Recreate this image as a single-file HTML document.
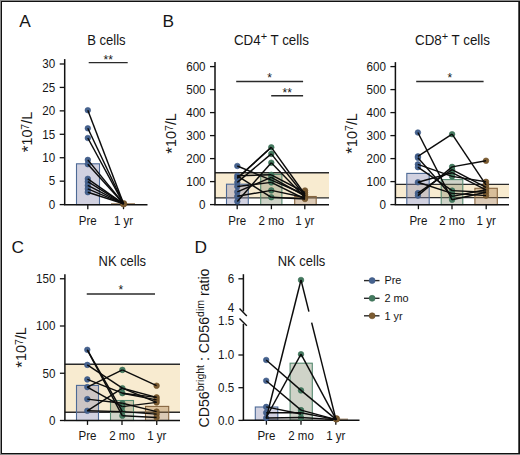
<!DOCTYPE html>
<html><head><meta charset="utf-8"><title>Lymphocyte subsets</title>
<style>
html,body{margin:0;padding:0;background:#fff;}
body{width:520px;height:455px;overflow:hidden;}
svg{display:block;}
text{font-family:"Liberation Sans", sans-serif;fill:#161616;}
</style></head>
<body>
<svg width="520" height="455" viewBox="0 0 520 455">
<rect x="0" y="0" width="520" height="455" fill="#8a8a8a"/>
<rect x="1" y="1" width="519" height="453" fill="#111"/>
<rect x="2" y="2" width="516" height="451" fill="#fff"/>
<rect x="518" y="2" width="1" height="451" fill="#555"/>
<text x="19.2" y="26.5" font-size="17.3" text-anchor="start" >A</text>
<text x="162.6" y="26.5" font-size="17.3" text-anchor="start" >B</text>
<text x="11.6" y="253.3" font-size="17.3" text-anchor="start" >C</text>
<text x="194.6" y="253.0" font-size="17.3" text-anchor="start" >D</text>
<text x="106.4" y="45.3" font-size="14" text-anchor="middle" textLength="38.5" lengthAdjust="spacingAndGlyphs">B cells</text>
<line x1="88.7" y1="62.6" x2="127.7" y2="62.6" stroke="#2a2a2a" stroke-width="1.4"/>
<text x="108.2" y="64.2" font-size="12" text-anchor="middle" >**</text>
<rect x="76.5" y="163.8" width="23.0" height="40.79999999999998" fill="rgba(140,140,178,0.4)" stroke="#4d6a96" stroke-width="1.1"/>
<rect x="111" y="203" width="24" height="1.5" fill="#876640" opacity="0.7"/>
<line x1="64.7" y1="59.1" x2="64.7" y2="205" stroke="#111" stroke-width="1.5"/>
<line x1="59.7" y1="204.6" x2="64.7" y2="204.6" stroke="#111" stroke-width="1.3"/>
<text transform="translate(55.2,208.9) scale(0.97,1)" font-size="12" text-anchor="end">0</text>
<line x1="59.7" y1="181.165" x2="64.7" y2="181.165" stroke="#111" stroke-width="1.3"/>
<text transform="translate(55.2,185.465) scale(0.97,1)" font-size="12" text-anchor="end">5</text>
<line x1="59.7" y1="157.73" x2="64.7" y2="157.73" stroke="#111" stroke-width="1.3"/>
<text transform="translate(55.2,162.03) scale(0.97,1)" font-size="12" text-anchor="end">10</text>
<line x1="59.7" y1="134.295" x2="64.7" y2="134.295" stroke="#111" stroke-width="1.3"/>
<text transform="translate(55.2,138.595) scale(0.97,1)" font-size="12" text-anchor="end">15</text>
<line x1="59.7" y1="110.85999999999999" x2="64.7" y2="110.85999999999999" stroke="#111" stroke-width="1.3"/>
<text transform="translate(55.2,115.15999999999998) scale(0.97,1)" font-size="12" text-anchor="end">20</text>
<line x1="59.7" y1="87.42499999999998" x2="64.7" y2="87.42499999999998" stroke="#111" stroke-width="1.3"/>
<text transform="translate(55.2,91.72499999999998) scale(0.97,1)" font-size="12" text-anchor="end">25</text>
<line x1="59.7" y1="63.98999999999998" x2="64.7" y2="63.98999999999998" stroke="#111" stroke-width="1.3"/>
<text transform="translate(55.2,68.28999999999998) scale(0.97,1)" font-size="12" text-anchor="end">30</text>
<line x1="63.95" y1="204.8" x2="147.5" y2="204.8" stroke="#111" stroke-width="1.5"/>
<line x1="87.8" y1="204.8" x2="87.8" y2="209.20000000000002" stroke="#111" stroke-width="1.3"/>
<text transform="translate(87.8,224.9) scale(0.96,1)" font-size="12" text-anchor="middle">Pre</text>
<line x1="123.5" y1="204.8" x2="123.5" y2="209.20000000000002" stroke="#111" stroke-width="1.3"/>
<text transform="translate(123.5,224.9) scale(0.96,1)" font-size="12" text-anchor="middle">1 yr</text>
<circle cx="87.8" cy="110.2" r="2.8" fill="#46638f" stroke="#3a5683" stroke-width="0.6"/>
<circle cx="87.8" cy="128.3" r="2.8" fill="#46638f" stroke="#3a5683" stroke-width="0.6"/>
<circle cx="87.8" cy="138" r="2.8" fill="#46638f" stroke="#3a5683" stroke-width="0.6"/>
<circle cx="87.8" cy="159.9" r="2.8" fill="#46638f" stroke="#3a5683" stroke-width="0.6"/>
<circle cx="87.8" cy="164.2" r="2.8" fill="#46638f" stroke="#3a5683" stroke-width="0.6"/>
<circle cx="87.8" cy="178.8" r="2.8" fill="#46638f" stroke="#3a5683" stroke-width="0.6"/>
<circle cx="87.8" cy="181.7" r="2.8" fill="#46638f" stroke="#3a5683" stroke-width="0.6"/>
<circle cx="87.8" cy="185.4" r="2.8" fill="#46638f" stroke="#3a5683" stroke-width="0.6"/>
<circle cx="87.8" cy="188.9" r="2.8" fill="#46638f" stroke="#3a5683" stroke-width="0.6"/>
<circle cx="87.8" cy="192.2" r="2.8" fill="#46638f" stroke="#3a5683" stroke-width="0.6"/>
<circle cx="123.6" cy="203.8" r="3.3" fill="#7c5c32" stroke="#6b4d25" stroke-width="0.6"/>
<line x1="87.8" y1="110.2" x2="123.6" y2="203.8" stroke="#0c0c0c" stroke-width="1.45"/>
<line x1="87.8" y1="128.3" x2="123.6" y2="203.8" stroke="#0c0c0c" stroke-width="1.45"/>
<line x1="87.8" y1="138" x2="123.6" y2="203.8" stroke="#0c0c0c" stroke-width="1.45"/>
<line x1="87.8" y1="159.9" x2="123.6" y2="203.8" stroke="#0c0c0c" stroke-width="1.45"/>
<line x1="87.8" y1="164.2" x2="123.6" y2="203.8" stroke="#0c0c0c" stroke-width="1.45"/>
<line x1="87.8" y1="178.8" x2="123.6" y2="203.8" stroke="#0c0c0c" stroke-width="1.45"/>
<line x1="87.8" y1="181.7" x2="123.6" y2="203.8" stroke="#0c0c0c" stroke-width="1.45"/>
<line x1="87.8" y1="185.4" x2="123.6" y2="203.8" stroke="#0c0c0c" stroke-width="1.45"/>
<line x1="87.8" y1="188.9" x2="123.6" y2="203.8" stroke="#0c0c0c" stroke-width="1.45"/>
<line x1="87.8" y1="192.2" x2="123.6" y2="203.8" stroke="#0c0c0c" stroke-width="1.45"/>
<text transform="translate(32.4,132.0) rotate(-90)" font-size="13.8" text-anchor="middle" textLength="40.5" lengthAdjust="spacingAndGlyphs"><tspan font-size="16.5" dy="1.6">*</tspan><tspan dy="-1.6">10</tspan><tspan font-size="10.2" dy="-3.6">7</tspan><tspan dy="3.6">/L</tspan></text>
<text x="271.4" y="45.3" font-size="14" text-anchor="middle" textLength="75" lengthAdjust="spacingAndGlyphs">CD4<tspan font-size="11.5" dy="-5.6">+</tspan><tspan dy="5.6"> T cells</tspan></text>
<line x1="236.2" y1="81.5" x2="303.1" y2="81.5" stroke="#2a2a2a" stroke-width="1.4"/>
<text x="269.65" y="82.4" font-size="12" text-anchor="middle" >*</text>
<line x1="271.2" y1="95.8" x2="303.1" y2="95.8" stroke="#2a2a2a" stroke-width="1.4"/>
<text x="287.15" y="97.0" font-size="12" text-anchor="middle" >**</text>
<rect x="215" y="172.8" width="114" height="25.099999999999994" fill="#f8ebd0"/>
<line x1="215" y1="172.8" x2="329" y2="172.8" stroke="#2a2a2a" stroke-width="1.4"/>
<line x1="215" y1="197.9" x2="329" y2="197.9" stroke="#2a2a2a" stroke-width="1.4"/>
<rect x="226.5" y="184.2" width="21.80000000000001" height="20.400000000000006" fill="rgba(140,140,178,0.4)" stroke="#4d6a96" stroke-width="1.1"/>
<rect x="260.7" y="174.4" width="21.19999999999999" height="30.19999999999999" fill="rgba(135,145,118,0.4)" stroke="#568a70" stroke-width="1.1"/>
<rect x="294.7" y="196.5" width="21.5" height="8.099999999999994" fill="rgba(167,122,72,0.4)" stroke="#876640" stroke-width="1.1"/>
<line x1="215" y1="62.1" x2="215" y2="205" stroke="#111" stroke-width="1.5"/>
<line x1="210" y1="204.6" x2="215" y2="204.6" stroke="#111" stroke-width="1.3"/>
<text transform="translate(205.6,208.9) scale(0.97,1)" font-size="12" text-anchor="end">0</text>
<line x1="210" y1="181.6" x2="215" y2="181.6" stroke="#111" stroke-width="1.3"/>
<text transform="translate(205.6,185.9) scale(0.97,1)" font-size="12" text-anchor="end">100</text>
<line x1="210" y1="158.6" x2="215" y2="158.6" stroke="#111" stroke-width="1.3"/>
<text transform="translate(205.6,162.9) scale(0.97,1)" font-size="12" text-anchor="end">200</text>
<line x1="210" y1="135.6" x2="215" y2="135.6" stroke="#111" stroke-width="1.3"/>
<text transform="translate(205.6,139.9) scale(0.97,1)" font-size="12" text-anchor="end">300</text>
<line x1="210" y1="112.6" x2="215" y2="112.6" stroke="#111" stroke-width="1.3"/>
<text transform="translate(205.6,116.89999999999999) scale(0.97,1)" font-size="12" text-anchor="end">400</text>
<line x1="210" y1="89.6" x2="215" y2="89.6" stroke="#111" stroke-width="1.3"/>
<text transform="translate(205.6,93.89999999999999) scale(0.97,1)" font-size="12" text-anchor="end">500</text>
<line x1="210" y1="66.6" x2="215" y2="66.6" stroke="#111" stroke-width="1.3"/>
<text transform="translate(205.6,70.89999999999999) scale(0.97,1)" font-size="12" text-anchor="end">600</text>
<line x1="214.25" y1="204.8" x2="329" y2="204.8" stroke="#111" stroke-width="1.5"/>
<line x1="237.2" y1="204.8" x2="237.2" y2="209.20000000000002" stroke="#111" stroke-width="1.3"/>
<text transform="translate(237.2,224.9) scale(0.96,1)" font-size="12" text-anchor="middle">Pre</text>
<line x1="271.4" y1="204.8" x2="271.4" y2="209.20000000000002" stroke="#111" stroke-width="1.3"/>
<text transform="translate(271.4,224.9) scale(0.96,1)" font-size="12" text-anchor="middle">2 mo</text>
<line x1="304.8" y1="204.8" x2="304.8" y2="209.20000000000002" stroke="#111" stroke-width="1.3"/>
<text transform="translate(304.8,224.9) scale(0.96,1)" font-size="12" text-anchor="middle">1 yr</text>
<circle cx="237.3" cy="166.0" r="2.8" fill="#46638f" stroke="#3a5683" stroke-width="0.6"/>
<circle cx="237.3" cy="175.8" r="2.8" fill="#46638f" stroke="#3a5683" stroke-width="0.6"/>
<circle cx="237.3" cy="178.3" r="2.8" fill="#46638f" stroke="#3a5683" stroke-width="0.6"/>
<circle cx="237.3" cy="182.4" r="2.8" fill="#46638f" stroke="#3a5683" stroke-width="0.6"/>
<circle cx="237.3" cy="186.5" r="2.8" fill="#46638f" stroke="#3a5683" stroke-width="0.6"/>
<circle cx="237.3" cy="191.9" r="2.8" fill="#46638f" stroke="#3a5683" stroke-width="0.6"/>
<circle cx="237.3" cy="196.3" r="2.8" fill="#46638f" stroke="#3a5683" stroke-width="0.6"/>
<circle cx="237.3" cy="201.4" r="2.8" fill="#46638f" stroke="#3a5683" stroke-width="0.6"/>
<circle cx="271.3" cy="147.3" r="2.8" fill="#457a60" stroke="#386c52" stroke-width="0.6"/>
<circle cx="271.3" cy="153.9" r="2.8" fill="#457a60" stroke="#386c52" stroke-width="0.6"/>
<circle cx="271.3" cy="162.7" r="2.8" fill="#457a60" stroke="#386c52" stroke-width="0.6"/>
<circle cx="271.3" cy="174.8" r="2.8" fill="#457a60" stroke="#386c52" stroke-width="0.6"/>
<circle cx="271.3" cy="177.3" r="2.8" fill="#457a60" stroke="#386c52" stroke-width="0.6"/>
<circle cx="271.3" cy="180.2" r="2.8" fill="#457a60" stroke="#386c52" stroke-width="0.6"/>
<circle cx="271.3" cy="182.4" r="2.8" fill="#457a60" stroke="#386c52" stroke-width="0.6"/>
<circle cx="271.3" cy="190.4" r="2.8" fill="#457a60" stroke="#386c52" stroke-width="0.6"/>
<circle cx="271.3" cy="197.3" r="2.8" fill="#457a60" stroke="#386c52" stroke-width="0.6"/>
<circle cx="305.0" cy="190.5" r="2.8" fill="#7c5c32" stroke="#6b4d25" stroke-width="0.6"/>
<circle cx="305.0" cy="192.5" r="2.8" fill="#7c5c32" stroke="#6b4d25" stroke-width="0.6"/>
<circle cx="305.0" cy="194.5" r="2.8" fill="#7c5c32" stroke="#6b4d25" stroke-width="0.6"/>
<circle cx="305.0" cy="196.0" r="2.8" fill="#7c5c32" stroke="#6b4d25" stroke-width="0.6"/>
<circle cx="305.0" cy="197.5" r="2.8" fill="#7c5c32" stroke="#6b4d25" stroke-width="0.6"/>
<circle cx="305.0" cy="199.0" r="2.8" fill="#7c5c32" stroke="#6b4d25" stroke-width="0.6"/>
<line x1="237.3" y1="166.0" x2="271.3" y2="180.2" stroke="#0c0c0c" stroke-width="1.45"/>
<line x1="237.3" y1="178.3" x2="271.3" y2="147.3" stroke="#0c0c0c" stroke-width="1.45"/>
<line x1="237.3" y1="182.4" x2="271.3" y2="153.9" stroke="#0c0c0c" stroke-width="1.45"/>
<line x1="237.3" y1="201.4" x2="271.3" y2="162.7" stroke="#0c0c0c" stroke-width="1.45"/>
<line x1="237.3" y1="175.8" x2="271.3" y2="174.8" stroke="#0c0c0c" stroke-width="1.45"/>
<line x1="237.3" y1="186.5" x2="271.3" y2="182.4" stroke="#0c0c0c" stroke-width="1.45"/>
<line x1="237.3" y1="191.9" x2="271.3" y2="177.3" stroke="#0c0c0c" stroke-width="1.45"/>
<line x1="237.3" y1="196.3" x2="271.3" y2="190.4" stroke="#0c0c0c" stroke-width="1.45"/>
<line x1="237.3" y1="175.8" x2="271.3" y2="197.3" stroke="#0c0c0c" stroke-width="1.45"/>
<line x1="237.3" y1="178.3" x2="271.3" y2="147.3" stroke="#0c0c0c" stroke-width="1.45"/>
<line x1="271.3" y1="147.3" x2="305.0" y2="194.5" stroke="#0c0c0c" stroke-width="1.45"/>
<line x1="271.3" y1="153.9" x2="305.0" y2="196.0" stroke="#0c0c0c" stroke-width="1.45"/>
<line x1="271.3" y1="162.7" x2="305.0" y2="197.5" stroke="#0c0c0c" stroke-width="1.45"/>
<line x1="271.3" y1="174.8" x2="305.0" y2="192.5" stroke="#0c0c0c" stroke-width="1.45"/>
<line x1="271.3" y1="177.3" x2="305.0" y2="196.0" stroke="#0c0c0c" stroke-width="1.45"/>
<line x1="271.3" y1="180.2" x2="305.0" y2="194.5" stroke="#0c0c0c" stroke-width="1.45"/>
<line x1="271.3" y1="182.4" x2="305.0" y2="199.0" stroke="#0c0c0c" stroke-width="1.45"/>
<line x1="271.3" y1="190.4" x2="305.0" y2="197.5" stroke="#0c0c0c" stroke-width="1.45"/>
<line x1="271.3" y1="197.3" x2="305.0" y2="199.0" stroke="#0c0c0c" stroke-width="1.45"/>
<text transform="translate(176.3,133.4) rotate(-90)" font-size="13.8" text-anchor="middle" textLength="40.5" lengthAdjust="spacingAndGlyphs"><tspan font-size="16.5" dy="1.6">*</tspan><tspan dy="-1.6">10</tspan><tspan font-size="10.2" dy="-3.6">7</tspan><tspan dy="3.6">/L</tspan></text>
<text x="452.5" y="45.3" font-size="14" text-anchor="middle" textLength="75" lengthAdjust="spacingAndGlyphs">CD8<tspan font-size="11.5" dy="-5.6">+</tspan><tspan dy="5.6"> T cells</tspan></text>
<line x1="416.2" y1="81.5" x2="483.6" y2="81.5" stroke="#2a2a2a" stroke-width="1.4"/>
<text x="449.9" y="82.4" font-size="12" text-anchor="middle" >*</text>
<rect x="395.4" y="184.4" width="113.60000000000002" height="13.199999999999989" fill="#f8ebd0"/>
<line x1="395.4" y1="184.4" x2="509" y2="184.4" stroke="#2a2a2a" stroke-width="1.4"/>
<line x1="395.4" y1="197.6" x2="509" y2="197.6" stroke="#2a2a2a" stroke-width="1.4"/>
<rect x="406.8" y="173.4" width="22.399999999999977" height="31.19999999999999" fill="rgba(140,140,178,0.4)" stroke="#4d6a96" stroke-width="1.1"/>
<rect x="441.2" y="179.6" width="21.600000000000023" height="25.0" fill="rgba(135,145,118,0.4)" stroke="#568a70" stroke-width="1.1"/>
<rect x="474.9" y="188.3" width="22.400000000000034" height="16.299999999999983" fill="rgba(167,122,72,0.4)" stroke="#876640" stroke-width="1.1"/>
<line x1="395.4" y1="62.1" x2="395.4" y2="205" stroke="#111" stroke-width="1.5"/>
<line x1="390.4" y1="204.6" x2="395.4" y2="204.6" stroke="#111" stroke-width="1.3"/>
<text transform="translate(386.0,208.9) scale(0.97,1)" font-size="12" text-anchor="end">0</text>
<line x1="390.4" y1="181.6" x2="395.4" y2="181.6" stroke="#111" stroke-width="1.3"/>
<text transform="translate(386.0,185.9) scale(0.97,1)" font-size="12" text-anchor="end">100</text>
<line x1="390.4" y1="158.6" x2="395.4" y2="158.6" stroke="#111" stroke-width="1.3"/>
<text transform="translate(386.0,162.9) scale(0.97,1)" font-size="12" text-anchor="end">200</text>
<line x1="390.4" y1="135.6" x2="395.4" y2="135.6" stroke="#111" stroke-width="1.3"/>
<text transform="translate(386.0,139.9) scale(0.97,1)" font-size="12" text-anchor="end">300</text>
<line x1="390.4" y1="112.6" x2="395.4" y2="112.6" stroke="#111" stroke-width="1.3"/>
<text transform="translate(386.0,116.89999999999999) scale(0.97,1)" font-size="12" text-anchor="end">400</text>
<line x1="390.4" y1="89.6" x2="395.4" y2="89.6" stroke="#111" stroke-width="1.3"/>
<text transform="translate(386.0,93.89999999999999) scale(0.97,1)" font-size="12" text-anchor="end">500</text>
<line x1="390.4" y1="66.6" x2="395.4" y2="66.6" stroke="#111" stroke-width="1.3"/>
<text transform="translate(386.0,70.89999999999999) scale(0.97,1)" font-size="12" text-anchor="end">600</text>
<line x1="394.65" y1="204.8" x2="509" y2="204.8" stroke="#111" stroke-width="1.5"/>
<line x1="418.4" y1="204.8" x2="418.4" y2="209.20000000000002" stroke="#111" stroke-width="1.3"/>
<text transform="translate(418.4,224.9) scale(0.96,1)" font-size="12" text-anchor="middle">Pre</text>
<line x1="452.0" y1="204.8" x2="452.0" y2="209.20000000000002" stroke="#111" stroke-width="1.3"/>
<text transform="translate(452.0,224.9) scale(0.96,1)" font-size="12" text-anchor="middle">2 mo</text>
<line x1="486.2" y1="204.8" x2="486.2" y2="209.20000000000002" stroke="#111" stroke-width="1.3"/>
<text transform="translate(486.2,224.9) scale(0.96,1)" font-size="12" text-anchor="middle">1 yr</text>
<circle cx="417.9" cy="132.5" r="2.8" fill="#46638f" stroke="#3a5683" stroke-width="0.6"/>
<circle cx="417.9" cy="156.4" r="2.8" fill="#46638f" stroke="#3a5683" stroke-width="0.6"/>
<circle cx="417.9" cy="157.7" r="2.8" fill="#46638f" stroke="#3a5683" stroke-width="0.6"/>
<circle cx="417.9" cy="164.4" r="2.8" fill="#46638f" stroke="#3a5683" stroke-width="0.6"/>
<circle cx="417.9" cy="167.2" r="2.8" fill="#46638f" stroke="#3a5683" stroke-width="0.6"/>
<circle cx="417.9" cy="182.3" r="2.8" fill="#46638f" stroke="#3a5683" stroke-width="0.6"/>
<circle cx="417.9" cy="193.1" r="2.8" fill="#46638f" stroke="#3a5683" stroke-width="0.6"/>
<circle cx="417.9" cy="195.6" r="2.8" fill="#46638f" stroke="#3a5683" stroke-width="0.6"/>
<circle cx="452.1" cy="134.2" r="2.8" fill="#457a60" stroke="#386c52" stroke-width="0.6"/>
<circle cx="452.1" cy="166.9" r="2.8" fill="#457a60" stroke="#386c52" stroke-width="0.6"/>
<circle cx="452.1" cy="169.7" r="2.8" fill="#457a60" stroke="#386c52" stroke-width="0.6"/>
<circle cx="452.1" cy="172.7" r="2.8" fill="#457a60" stroke="#386c52" stroke-width="0.6"/>
<circle cx="452.1" cy="176.4" r="2.8" fill="#457a60" stroke="#386c52" stroke-width="0.6"/>
<circle cx="452.1" cy="190.6" r="2.8" fill="#457a60" stroke="#386c52" stroke-width="0.6"/>
<circle cx="452.1" cy="193.4" r="2.8" fill="#457a60" stroke="#386c52" stroke-width="0.6"/>
<circle cx="452.1" cy="196.4" r="2.8" fill="#457a60" stroke="#386c52" stroke-width="0.6"/>
<circle cx="452.1" cy="199.8" r="2.8" fill="#457a60" stroke="#386c52" stroke-width="0.6"/>
<circle cx="486.0" cy="160.7" r="2.8" fill="#7c5c32" stroke="#6b4d25" stroke-width="0.6"/>
<circle cx="486.0" cy="181.8" r="2.8" fill="#7c5c32" stroke="#6b4d25" stroke-width="0.6"/>
<circle cx="486.0" cy="184.8" r="2.8" fill="#7c5c32" stroke="#6b4d25" stroke-width="0.6"/>
<circle cx="486.0" cy="187.3" r="2.8" fill="#7c5c32" stroke="#6b4d25" stroke-width="0.6"/>
<circle cx="486.0" cy="189.8" r="2.8" fill="#7c5c32" stroke="#6b4d25" stroke-width="0.6"/>
<circle cx="486.0" cy="192.3" r="2.8" fill="#7c5c32" stroke="#6b4d25" stroke-width="0.6"/>
<circle cx="486.0" cy="195.6" r="2.8" fill="#7c5c32" stroke="#6b4d25" stroke-width="0.6"/>
<line x1="417.9" y1="132.5" x2="452.1" y2="199.8" stroke="#0c0c0c" stroke-width="1.45"/>
<line x1="417.9" y1="156.4" x2="452.1" y2="134.2" stroke="#0c0c0c" stroke-width="1.45"/>
<line x1="417.9" y1="157.7" x2="452.1" y2="196.4" stroke="#0c0c0c" stroke-width="1.45"/>
<line x1="417.9" y1="164.4" x2="452.1" y2="176.4" stroke="#0c0c0c" stroke-width="1.45"/>
<line x1="417.9" y1="167.2" x2="452.1" y2="190.6" stroke="#0c0c0c" stroke-width="1.45"/>
<line x1="417.9" y1="182.3" x2="452.1" y2="193.4" stroke="#0c0c0c" stroke-width="1.45"/>
<line x1="417.9" y1="182.3" x2="452.1" y2="172.7" stroke="#0c0c0c" stroke-width="1.45"/>
<line x1="417.9" y1="193.1" x2="452.1" y2="169.7" stroke="#0c0c0c" stroke-width="1.45"/>
<line x1="417.9" y1="195.6" x2="452.1" y2="166.9" stroke="#0c0c0c" stroke-width="1.45"/>
<line x1="452.1" y1="134.2" x2="486.0" y2="184.8" stroke="#0c0c0c" stroke-width="1.45"/>
<line x1="452.1" y1="166.9" x2="486.0" y2="160.7" stroke="#0c0c0c" stroke-width="1.45"/>
<line x1="452.1" y1="169.7" x2="486.0" y2="187.3" stroke="#0c0c0c" stroke-width="1.45"/>
<line x1="452.1" y1="172.7" x2="486.0" y2="189.8" stroke="#0c0c0c" stroke-width="1.45"/>
<line x1="452.1" y1="176.4" x2="486.0" y2="181.8" stroke="#0c0c0c" stroke-width="1.45"/>
<line x1="452.1" y1="190.6" x2="486.0" y2="192.3" stroke="#0c0c0c" stroke-width="1.45"/>
<line x1="452.1" y1="193.4" x2="486.0" y2="195.6" stroke="#0c0c0c" stroke-width="1.45"/>
<line x1="452.1" y1="196.4" x2="486.0" y2="189.8" stroke="#0c0c0c" stroke-width="1.45"/>
<line x1="452.1" y1="199.8" x2="486.0" y2="192.3" stroke="#0c0c0c" stroke-width="1.45"/>
<text transform="translate(356.5,133.4) rotate(-90)" font-size="13.8" text-anchor="middle" textLength="40.5" lengthAdjust="spacingAndGlyphs"><tspan font-size="16.5" dy="1.6">*</tspan><tspan dy="-1.6">10</tspan><tspan font-size="10.2" dy="-3.6">7</tspan><tspan dy="3.6">/L</tspan></text>
<text x="122.3" y="266.0" font-size="14" text-anchor="middle" textLength="47.5" lengthAdjust="spacingAndGlyphs">NK cells</text>
<line x1="86.75" y1="294" x2="155" y2="294" stroke="#2a2a2a" stroke-width="1.4"/>
<text x="120.875" y="294.4" font-size="12" text-anchor="middle" >*</text>
<rect x="64.9" y="364.3" width="115.1" height="48.0" fill="#f8ebd0"/>
<line x1="64.9" y1="364.3" x2="180" y2="364.3" stroke="#2a2a2a" stroke-width="1.4"/>
<line x1="64.9" y1="412.3" x2="180" y2="412.3" stroke="#2a2a2a" stroke-width="1.4"/>
<rect x="76.5" y="385.4" width="22.0" height="35.10000000000002" fill="rgba(140,140,178,0.4)" stroke="#4d6a96" stroke-width="1.1"/>
<rect x="110.5" y="400.5" width="23.0" height="20.0" fill="rgba(135,145,118,0.4)" stroke="#568a70" stroke-width="1.1"/>
<rect x="145.5" y="406.4" width="23.19999999999999" height="14.100000000000023" fill="rgba(167,122,72,0.4)" stroke="#876640" stroke-width="1.1"/>
<line x1="64.9" y1="274.3" x2="64.9" y2="420.5" stroke="#111" stroke-width="1.5"/>
<line x1="59.900000000000006" y1="420.5" x2="64.9" y2="420.5" stroke="#111" stroke-width="1.3"/>
<text transform="translate(55.4,424.8) scale(0.97,1)" font-size="12" text-anchor="end">0</text>
<line x1="59.900000000000006" y1="373.25" x2="64.9" y2="373.25" stroke="#111" stroke-width="1.3"/>
<text transform="translate(55.4,377.55) scale(0.97,1)" font-size="12" text-anchor="end">50</text>
<line x1="59.900000000000006" y1="326.0" x2="64.9" y2="326.0" stroke="#111" stroke-width="1.3"/>
<text transform="translate(55.4,330.3) scale(0.97,1)" font-size="12" text-anchor="end">100</text>
<line x1="59.900000000000006" y1="278.75" x2="64.9" y2="278.75" stroke="#111" stroke-width="1.3"/>
<text transform="translate(55.4,283.05) scale(0.97,1)" font-size="12" text-anchor="end">150</text>
<line x1="64.15" y1="420.5" x2="180" y2="420.5" stroke="#111" stroke-width="1.5"/>
<line x1="87.5" y1="420.5" x2="87.5" y2="424.9" stroke="#111" stroke-width="1.3"/>
<text transform="translate(87.5,440.2) scale(0.96,1)" font-size="12" text-anchor="middle">Pre</text>
<line x1="122.0" y1="420.5" x2="122.0" y2="424.9" stroke="#111" stroke-width="1.3"/>
<text transform="translate(122.0,440.2) scale(0.96,1)" font-size="12" text-anchor="middle">2 mo</text>
<line x1="156.75" y1="420.5" x2="156.75" y2="424.9" stroke="#111" stroke-width="1.3"/>
<text transform="translate(156.75,440.2) scale(0.96,1)" font-size="12" text-anchor="middle">1 yr</text>
<circle cx="87.3" cy="349.8" r="2.8" fill="#46638f" stroke="#3a5683" stroke-width="0.6"/>
<circle cx="87.3" cy="364.9" r="2.8" fill="#46638f" stroke="#3a5683" stroke-width="0.6"/>
<circle cx="87.3" cy="379.4" r="2.8" fill="#46638f" stroke="#3a5683" stroke-width="0.6"/>
<circle cx="87.3" cy="387.1" r="2.8" fill="#46638f" stroke="#3a5683" stroke-width="0.6"/>
<circle cx="87.3" cy="399.1" r="2.8" fill="#46638f" stroke="#3a5683" stroke-width="0.6"/>
<circle cx="87.3" cy="410.8" r="2.8" fill="#46638f" stroke="#3a5683" stroke-width="0.6"/>
<circle cx="122.4" cy="369.9" r="2.8" fill="#457a60" stroke="#386c52" stroke-width="0.6"/>
<circle cx="122.4" cy="388.2" r="2.8" fill="#457a60" stroke="#386c52" stroke-width="0.6"/>
<circle cx="122.4" cy="393.2" r="2.8" fill="#457a60" stroke="#386c52" stroke-width="0.6"/>
<circle cx="122.4" cy="403.3" r="2.8" fill="#457a60" stroke="#386c52" stroke-width="0.6"/>
<circle cx="122.4" cy="406.6" r="2.8" fill="#457a60" stroke="#386c52" stroke-width="0.6"/>
<circle cx="122.4" cy="411.6" r="2.8" fill="#457a60" stroke="#386c52" stroke-width="0.6"/>
<circle cx="122.4" cy="415.8" r="2.8" fill="#457a60" stroke="#386c52" stroke-width="0.6"/>
<circle cx="156.6" cy="385.7" r="2.8" fill="#7c5c32" stroke="#6b4d25" stroke-width="0.6"/>
<circle cx="156.6" cy="397.4" r="2.8" fill="#7c5c32" stroke="#6b4d25" stroke-width="0.6"/>
<circle cx="156.6" cy="399.9" r="2.8" fill="#7c5c32" stroke="#6b4d25" stroke-width="0.6"/>
<circle cx="156.6" cy="402.4" r="2.8" fill="#7c5c32" stroke="#6b4d25" stroke-width="0.6"/>
<circle cx="156.6" cy="411.6" r="2.8" fill="#7c5c32" stroke="#6b4d25" stroke-width="0.6"/>
<circle cx="156.6" cy="414.1" r="2.8" fill="#7c5c32" stroke="#6b4d25" stroke-width="0.6"/>
<circle cx="156.6" cy="417.5" r="2.8" fill="#7c5c32" stroke="#6b4d25" stroke-width="0.6"/>
<line x1="87.3" y1="349.8" x2="122.4" y2="411.6" stroke="#0c0c0c" stroke-width="1.45"/>
<line x1="87.3" y1="349.8" x2="122.4" y2="415.8" stroke="#0c0c0c" stroke-width="1.45"/>
<line x1="87.3" y1="364.9" x2="122.4" y2="388.2" stroke="#0c0c0c" stroke-width="1.45"/>
<line x1="87.3" y1="379.4" x2="122.4" y2="393.2" stroke="#0c0c0c" stroke-width="1.45"/>
<line x1="87.3" y1="387.1" x2="122.4" y2="369.9" stroke="#0c0c0c" stroke-width="1.45"/>
<line x1="87.3" y1="399.1" x2="122.4" y2="403.3" stroke="#0c0c0c" stroke-width="1.45"/>
<line x1="87.3" y1="410.8" x2="122.4" y2="388.2" stroke="#0c0c0c" stroke-width="1.45"/>
<line x1="87.3" y1="410.8" x2="122.4" y2="411.6" stroke="#0c0c0c" stroke-width="1.45"/>
<line x1="87.3" y1="387.1" x2="122.4" y2="406.6" stroke="#0c0c0c" stroke-width="1.45"/>
<line x1="122.4" y1="369.9" x2="156.6" y2="385.7" stroke="#0c0c0c" stroke-width="1.45"/>
<line x1="122.4" y1="388.2" x2="156.6" y2="397.4" stroke="#0c0c0c" stroke-width="1.45"/>
<line x1="122.4" y1="388.2" x2="156.6" y2="402.4" stroke="#0c0c0c" stroke-width="1.45"/>
<line x1="122.4" y1="393.2" x2="156.6" y2="399.9" stroke="#0c0c0c" stroke-width="1.45"/>
<line x1="122.4" y1="403.3" x2="156.6" y2="411.6" stroke="#0c0c0c" stroke-width="1.45"/>
<line x1="122.4" y1="406.6" x2="156.6" y2="402.4" stroke="#0c0c0c" stroke-width="1.45"/>
<line x1="122.4" y1="411.6" x2="156.6" y2="414.1" stroke="#0c0c0c" stroke-width="1.45"/>
<line x1="122.4" y1="415.8" x2="156.6" y2="417.5" stroke="#0c0c0c" stroke-width="1.45"/>
<line x1="122.4" y1="393.2" x2="156.6" y2="397.4" stroke="#0c0c0c" stroke-width="1.45"/>
<text transform="translate(26.2,347.4) rotate(-90)" font-size="13.8" text-anchor="middle" textLength="40.5" lengthAdjust="spacingAndGlyphs"><tspan font-size="16.5" dy="1.6">*</tspan><tspan dy="-1.6">10</tspan><tspan font-size="10.2" dy="-3.6">7</tspan><tspan dy="3.6">/L</tspan></text>
<text x="301.5" y="266.0" font-size="14" text-anchor="middle" textLength="47.5" lengthAdjust="spacingAndGlyphs">NK cells</text>
<rect x="255.3" y="407.0" width="22.5" height="13.300000000000011" fill="rgba(140,140,178,0.4)" stroke="#4d6a96" stroke-width="1.1"/>
<rect x="290.1" y="363.2" width="22.19999999999999" height="57.10000000000002" fill="rgba(135,145,118,0.4)" stroke="#568a70" stroke-width="1.1"/>
<rect x="325" y="418.6" width="23" height="1.2" fill="#876640" opacity="0.8"/>
<line x1="242.65" y1="420.3" x2="359.5" y2="420.3" stroke="#111" stroke-width="1.5"/>
<line x1="266.4" y1="420.3" x2="266.4" y2="424.7" stroke="#111" stroke-width="1.3"/>
<text transform="translate(266.4,440.2) scale(0.96,1)" font-size="12" text-anchor="middle">Pre</text>
<line x1="301.0" y1="420.3" x2="301.0" y2="424.7" stroke="#111" stroke-width="1.3"/>
<text transform="translate(301.0,440.2) scale(0.96,1)" font-size="12" text-anchor="middle">2 mo</text>
<line x1="335.8" y1="420.3" x2="335.8" y2="424.7" stroke="#111" stroke-width="1.3"/>
<text transform="translate(335.8,440.2) scale(0.96,1)" font-size="12" text-anchor="middle">1 yr</text>
<circle cx="266.2" cy="360.0" r="2.8" fill="#46638f" stroke="#3a5683" stroke-width="0.6"/>
<circle cx="266.2" cy="380.7" r="2.8" fill="#46638f" stroke="#3a5683" stroke-width="0.6"/>
<circle cx="266.2" cy="406.9" r="2.8" fill="#46638f" stroke="#3a5683" stroke-width="0.6"/>
<circle cx="266.2" cy="412.7" r="2.8" fill="#46638f" stroke="#3a5683" stroke-width="0.6"/>
<circle cx="266.2" cy="418.0" r="2.8" fill="#46638f" stroke="#3a5683" stroke-width="0.6"/>
<circle cx="301.0" cy="280.0" r="2.8" fill="#457a60" stroke="#386c52" stroke-width="0.6"/>
<circle cx="301.0" cy="354.2" r="2.8" fill="#457a60" stroke="#386c52" stroke-width="0.6"/>
<circle cx="301.0" cy="390.4" r="2.8" fill="#457a60" stroke="#386c52" stroke-width="0.6"/>
<circle cx="301.0" cy="410.1" r="2.8" fill="#457a60" stroke="#386c52" stroke-width="0.6"/>
<circle cx="301.0" cy="412.7" r="2.8" fill="#457a60" stroke="#386c52" stroke-width="0.6"/>
<circle cx="301.0" cy="417.5" r="2.8" fill="#457a60" stroke="#386c52" stroke-width="0.6"/>
<circle cx="336.4" cy="418.9" r="3.3" fill="#7c5c32" stroke="#6b4d25" stroke-width="0.6"/>
<line x1="266.2" y1="360.0" x2="301.0" y2="390.4" stroke="#0c0c0c" stroke-width="1.45"/>
<line x1="266.2" y1="380.7" x2="301.0" y2="410.1" stroke="#0c0c0c" stroke-width="1.45"/>
<line x1="266.2" y1="417.5" x2="301.0" y2="354.2" stroke="#0c0c0c" stroke-width="1.45"/>
<line x1="266.2" y1="418.5" x2="301.0" y2="280.0" stroke="#0c0c0c" stroke-width="1.45"/>
<line x1="266.2" y1="412.7" x2="301.0" y2="412.7" stroke="#0c0c0c" stroke-width="1.45"/>
<line x1="266.2" y1="418" x2="301.0" y2="417.5" stroke="#0c0c0c" stroke-width="1.45"/>
<line x1="266.2" y1="406.9" x2="301.0" y2="414" stroke="#0c0c0c" stroke-width="1.45"/>
<line x1="301.0" y1="390.4" x2="336.3" y2="419.6" stroke="#0c0c0c" stroke-width="1.45"/>
<line x1="301.0" y1="410.1" x2="336.3" y2="419.6" stroke="#0c0c0c" stroke-width="1.45"/>
<line x1="301.0" y1="354.2" x2="336.3" y2="419.6" stroke="#0c0c0c" stroke-width="1.45"/>
<line x1="301.0" y1="412.7" x2="336.3" y2="419.6" stroke="#0c0c0c" stroke-width="1.45"/>
<line x1="301.0" y1="417.5" x2="336.3" y2="419.6" stroke="#0c0c0c" stroke-width="1.45"/>
<line x1="301" y1="280" x2="308.9" y2="311.6" stroke="#0c0c0c" stroke-width="1.45"/>
<line x1="311.65" y1="322.6" x2="336.0" y2="419.6" stroke="#0c0c0c" stroke-width="1.45"/>
<line x1="243.4" y1="274.2" x2="243.4" y2="311.5" stroke="#111" stroke-width="1.5"/>
<line x1="243.4" y1="323.8" x2="243.4" y2="420.4" stroke="#111" stroke-width="1.5"/>
<line x1="239.5" y1="308.6" x2="246.8" y2="315.9" stroke="#111" stroke-width="1.4"/>
<line x1="239.5" y1="318.5" x2="246.8" y2="325.8" stroke="#111" stroke-width="1.4"/>
<line x1="238.4" y1="278.8" x2="243.4" y2="278.8" stroke="#111" stroke-width="1.3"/>
<line x1="238.4" y1="355.0" x2="243.4" y2="355.0" stroke="#111" stroke-width="1.3"/>
<text transform="translate(234.2,359.3) scale(0.97,1)" font-size="12" text-anchor="end">1.0</text>
<line x1="238.4" y1="387.7" x2="243.4" y2="387.7" stroke="#111" stroke-width="1.3"/>
<text transform="translate(234.2,392.0) scale(0.97,1)" font-size="12" text-anchor="end">0.5</text>
<line x1="238.4" y1="420.4" x2="243.4" y2="420.4" stroke="#111" stroke-width="1.3"/>
<text transform="translate(234.2,424.7) scale(0.97,1)" font-size="12" text-anchor="end">0.0</text>
<text transform="translate(234.2,283.1) scale(0.97,1)" font-size="12" text-anchor="end">6</text>
<text transform="translate(234.2,312.0) scale(0.97,1)" font-size="12" text-anchor="end">4</text>
<text transform="translate(234.2,324.6) scale(0.97,1)" font-size="12" text-anchor="end">1.5</text>
<text transform="translate(209.2,427.5) rotate(-90)" font-size="14.2" textLength="159" lengthAdjust="spacingAndGlyphs">CD56<tspan font-size="10.5" dy="-5.5">bright</tspan><tspan dy="5.5"> : CD56</tspan><tspan font-size="10.5" dy="-5.5">dim</tspan><tspan dy="5.5"> ratio</tspan></text>
<line x1="364" y1="280.6" x2="379.5" y2="280.6" stroke="#2a2a2a" stroke-width="1.4"/>
<circle cx="372.1" cy="280.6" r="3.0" fill="#46638f" stroke="#3a5683" stroke-width="0.6"/>
<text transform="translate(384.4,284.3) scale(0.95,1)" font-size="11.5">Pre</text>
<line x1="364" y1="298.3" x2="379.5" y2="298.3" stroke="#2a2a2a" stroke-width="1.4"/>
<circle cx="372.1" cy="298.3" r="3.0" fill="#457a60" stroke="#386c52" stroke-width="0.6"/>
<text transform="translate(384.4,302.0) scale(0.95,1)" font-size="11.5">2 mo</text>
<line x1="364" y1="315.8" x2="379.5" y2="315.8" stroke="#2a2a2a" stroke-width="1.4"/>
<circle cx="372.1" cy="315.8" r="3.0" fill="#7c5c32" stroke="#6b4d25" stroke-width="0.6"/>
<text transform="translate(384.4,319.5) scale(0.95,1)" font-size="11.5">1 yr</text>
</svg>
</body></html>
